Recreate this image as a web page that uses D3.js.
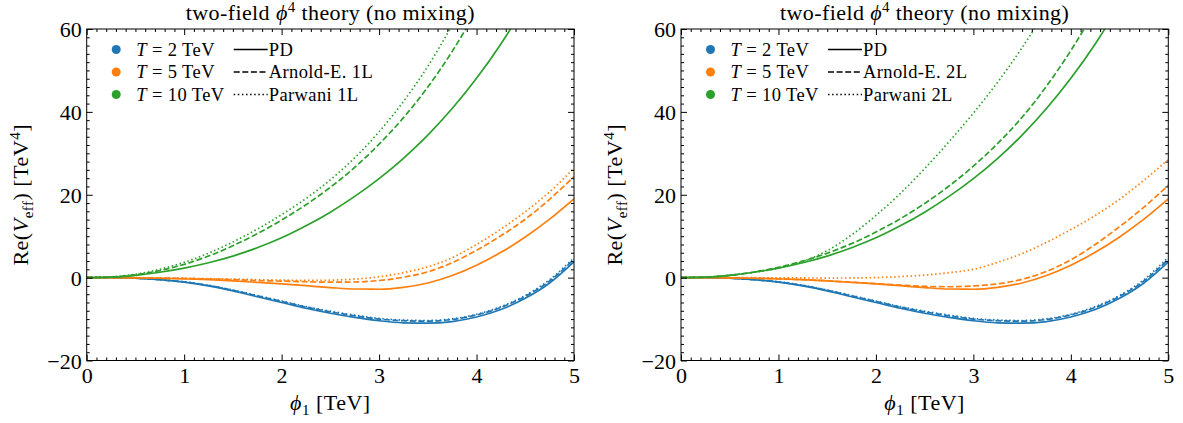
<!DOCTYPE html>
<html><head><meta charset="utf-8">
<script src="https://cdn.jsdelivr.net/npm/d3@7"></script>
<style>
body{margin:0;background:#fff;}
svg text{font-family:"Liberation Serif","DejaVu Serif",serif;fill:#000;}
</style></head><body>
<svg id="chart" width="1183" height="423"></svg>
<script>
// ---------------- data ----------------
const phi = [0,0.25,0.5,0.75,1,1.25,1.5,1.75,2,2.25,2.5,2.75,3,3.25,3.5,3.75,4,4.25,4.5,4.75,5];

const temps = ["2", "5", "10"];
const colors = ["#1f77b4", "#ff7f0e", "#2ca02c"];
const xTicks = [0,1,2,3,4,5];
const yTicks = [-20,0,20,40,60];
const titleMain = "two-field ";
const titleRest = " theory (no mixing)";
const legendStyles1L = ["PD", "Arnold-E. 1L", "Parwani 1L"];
const legendStyles2L = ["PD", "Arnold-E. 2L", "Parwani 2L"];

// T = 2 TeV
const bluePD   = [0,-0.02,-0.15,-0.5,-1.1,-2.0,-3.2,-4.6,-6.0,-7.4,-8.6,-9.6,-10.4,-10.9,-11.0,-10.6,-9.5,-7.7,-5.0,-1.3,3.8];
const blueAE1L = [0,-0.02,-0.15,-0.5,-1.05,-1.9,-3.05,-4.4,-5.75,-7.1,-8.25,-9.2,-10.0,-10.4,-10.5,-10.1,-9.0,-7.2,-4.5,-0.8,4.4];
const blueP1L  = [0,-0.02,-0.14,-0.48,-1.0,-1.85,-3.0,-4.3,-5.65,-7.0,-8.1,-9.05,-9.85,-10.25,-10.35,-9.95,-8.85,-7.0,-4.3,-0.5,4.8];
const blueAE2L = [0,-0.02,-0.15,-0.5,-1.05,-1.9,-3.05,-4.4,-5.75,-7.1,-8.25,-9.2,-10.0,-10.4,-10.5,-10.1,-9.0,-7.2,-4.5,-0.8,4.4];
const blueP2L  = [0,-0.02,-0.14,-0.48,-1.0,-1.85,-3.0,-4.3,-5.65,-7.0,-8.1,-9.05,-9.85,-10.25,-10.35,-9.95,-8.85,-7.0,-4.3,-0.5,4.9];

// T = 5 TeV
const orangePD   = [0,-0.01,-0.05,-0.15,-0.3,-0.5,-0.8,-1.15,-1.5,-1.95,-2.4,-2.75,-2.8,-2.35,-1.3,0.5,3.0,6.1,9.8,14.1,19.0];
const orangeAE1L = [0,-0.01,-0.03,-0.1,-0.2,-0.33,-0.5,-0.7,-0.85,-1.0,-1.1,-1.05,-0.7,0.1,1.4,3.6,6.6,10.1,14.1,18.9,24.4];
const orangeP1L  = [0,-0.01,-0.02,-0.07,-0.15,-0.25,-0.35,-0.48,-0.6,-0.68,-0.62,-0.35,0.2,1.2,2.6,4.8,8.0,11.7,15.9,20.7,26.4];
const orangeAE2L = [0,-0.01,-0.05,-0.15,-0.3,-0.5,-0.78,-1.1,-1.45,-1.8,-2.1,-2.2,-2.0,-1.5,-0.4,1.5,4.3,8.0,12.3,17.0,22.3];
const orangeP2L  = [0,0,0,-0.02,-0.05,-0.08,-0.1,-0.08,0.0,0.25,0.6,1.2,2.0,3.7,5.8,8.5,11.6,15.0,18.9,23.5,28.5];

// T = 10 TeV
const greenPD   = [0,0.1,0.55,1.3,2.3,3.6,5.2,7.2,9.6,12.5,15.8,19.6,23.9,28.8,34.4,40.8,48.1,56.4,65.9,76.5,88.0];
const greenAE1L = [0,0.15,0.7,1.7,3.2,5.2,7.7,10.6,13.9,17.6,21.8,26.6,32.2,38.6,46.0,54.6,64.6,76.0,89.0,103,119];
const greenP1L  = [0,0.2,0.8,2.0,3.7,5.9,8.6,11.7,15.2,19.1,23.6,28.9,35.2,42.5,51.0,61.0,72.5,85.5,100,116,133];
const greenAE2L = [0,0.1,0.55,1.35,2.5,4.0,5.9,8.2,11.0,14.2,17.9,22.1,26.9,32.4,38.7,46.2,54.8,64.6,75.5,87.5,101];
const greenP2L  = [0,0.15,0.6,1.3,2.3,3.9,6.5,10.3,15.0,20.3,26.3,32.8,39.7,47.2,55.5,64.8,75.0,86.0,98.0,111,125];

// ---------------- layout ----------------
const svg = d3.select("#chart");
const plotTop = 29, plotBottom = 360.5, plotW = 487.3;
const panelLeft = [86.7, 681];
const dashFor = ["none", "6,2.6", "1.5,2.6"];

const panels = [
  {legend: legendStyles1L, series: [[bluePD,blueAE1L,blueP1L],[orangePD,orangeAE1L,orangeP1L],[greenPD,greenAE1L,greenP1L]]},
  {legend: legendStyles2L, series: [[bluePD,blueAE2L,blueP2L],[orangePD,orangeAE2L,orangeP2L],[greenPD,greenAE2L,greenP2L]]}
];

const xMinor = d3.range(0, 51).map(d => d/10).filter(d => Math.abs(d - Math.round(d)) > 1e-9);
const yMinor = d3.range(-20, 61, 2).filter(d => d % 20 !== 0);

panels.forEach((p, pi) => {
  const left = panelLeft[pi];
  const x = d3.scaleLinear().domain([0,5]).range([left, left + plotW]);
  const y = d3.scaleLinear().domain([-20,60]).range([plotBottom, plotTop]);
  const g = svg.append("g");

  const clipId = "clip" + pi;
  svg.append("clipPath").attr("id", clipId).append("rect")
    .attr("x", left).attr("y", plotTop).attr("width", plotW).attr("height", plotBottom - plotTop);

  // lines
  const line = d3.line().x((d,i) => x(phi[i])).y(d => y(d)).curve(d3.curveMonotoneX);
  const lg = g.append("g").attr("clip-path", `url(#${clipId})`);
  p.series.forEach((trip, ci) => {
    trip.forEach((vals, si) => {
      lg.append("path").datum(vals)
        .attr("d", line)
        .attr("fill", "none")
        .attr("stroke", colors[ci])
        .attr("stroke-width", 1.7)
        .attr("stroke-dasharray", dashFor[si]);
    });
  });

  // axes (inward ticks on all sides)
  const mk = (axisFn, scale, vals, size, fmt, pos) => {
    const a = axisFn(scale).tickValues(vals).tickSizeInner(size).tickSizeOuter(0);
    a.tickFormat(fmt === null ? "" : d3.format("d"));
    const ag = g.append("g").attr("transform", pos).call(a);
    ag.select(".domain").remove();
    ag.selectAll(".tick line").attr("stroke", "#000").attr("stroke-width", 1);
    return ag;
  };
  const bx = mk(d3.axisBottom, x, xTicks, -6, 1, `translate(0,${plotBottom})`);
  bx.selectAll(".tick text").attr("y", 6.5).attr("dy", "0.71em").style("font-size", "22px");
  mk(d3.axisBottom, x, xMinor, -3, null, `translate(0,${plotBottom})`);
  mk(d3.axisTop, x, xTicks, -6, null, `translate(0,${plotTop})`);
  mk(d3.axisTop, x, xMinor, -3, null, `translate(0,${plotTop})`);
  const ly = mk(d3.axisLeft, y, yTicks, -6, 1, `translate(${left},0)`);
  ly.selectAll(".tick text").attr("x", -5).attr("dy", "0.35em").style("font-size", "22px");
  mk(d3.axisLeft, y, yMinor, -3, null, `translate(${left},0)`);
  mk(d3.axisRight, y, yTicks, -6, null, `translate(${left+plotW},0)`);
  mk(d3.axisRight, y, yMinor, -3, null, `translate(${left+plotW},0)`);
  g.selectAll(".tick text").attr("font-family", null).attr("fill", "#000");

  // frame
  g.append("rect").attr("x", left).attr("y", plotTop).attr("width", plotW).attr("height", plotBottom - plotTop)
    .attr("fill", "none").attr("stroke", "#000").attr("stroke-width", 1);

  // title
  const t = g.append("text").attr("x", left + plotW/2).attr("y", 20)
    .attr("text-anchor", "middle").style("font-size", "22px").style("letter-spacing", "0.4px");
  t.append("tspan").text(titleMain);
  t.append("tspan").style("font-style", "italic").text("\u03D5");
  t.append("tspan").attr("dy", -8).style("font-size", "15px").text("4");
  t.append("tspan").attr("dy", 8).text(titleRest);

  // y label
  const yl = g.append("text")
    .attr("transform", `translate(${left - 59},${(plotTop+plotBottom)/2}) rotate(-90)`)
    .attr("text-anchor", "middle").style("font-size", "22px").style("letter-spacing", "0.5px");
  yl.append("tspan").text("Re(");
  yl.append("tspan").style("font-style", "italic").text("V");
  yl.append("tspan").attr("dy", 5).style("font-size", "15px").text("eff");
  yl.append("tspan").attr("dy", -5).text(") [TeV");
  yl.append("tspan").attr("dy", -8).style("font-size", "15px").text("4");
  yl.append("tspan").attr("dy", 8).text("]");

  // x label
  const xl = g.append("text").attr("x", left + plotW/2).attr("y", 410)
    .attr("text-anchor", "middle").style("font-size", "22px").style("letter-spacing", "0.5px");
  xl.append("tspan").style("font-style", "italic").text("\u03D5");
  xl.append("tspan").attr("dy", 5).style("font-size", "15px").text("1");
  xl.append("tspan").attr("dy", -5).text(" [TeV]");

  // legend
  const rowY = [49.5, 72, 94.5];
  temps.forEach((T, i) => {
    g.append("circle").attr("cx", left + 29.5).attr("cy", rowY[i]).attr("r", 4.5).attr("fill", colors[i]);
    const tt = g.append("text").attr("x", left + 49.5).attr("y", rowY[i] + 6)
      .style("font-size", "18.5px").style("letter-spacing", "0.4px");
    tt.append("tspan").style("font-style", "italic").text("T");
    tt.append("tspan").text(` = ${T} TeV`);
  });
  p.legend.forEach((lab, i) => {
    g.append("line").attr("x1", left + 147).attr("x2", left + 181)
      .attr("y1", rowY[i]).attr("y2", rowY[i])
      .attr("stroke", "#000").attr("stroke-width", 1.7).attr("stroke-dasharray", dashFor[i]);
    g.append("text").attr("x", left + 182).attr("y", rowY[i] + 6)
      .style("font-size", "18.5px").style("letter-spacing", "0.4px").text(lab);
  });
});
</script>
</body></html>
